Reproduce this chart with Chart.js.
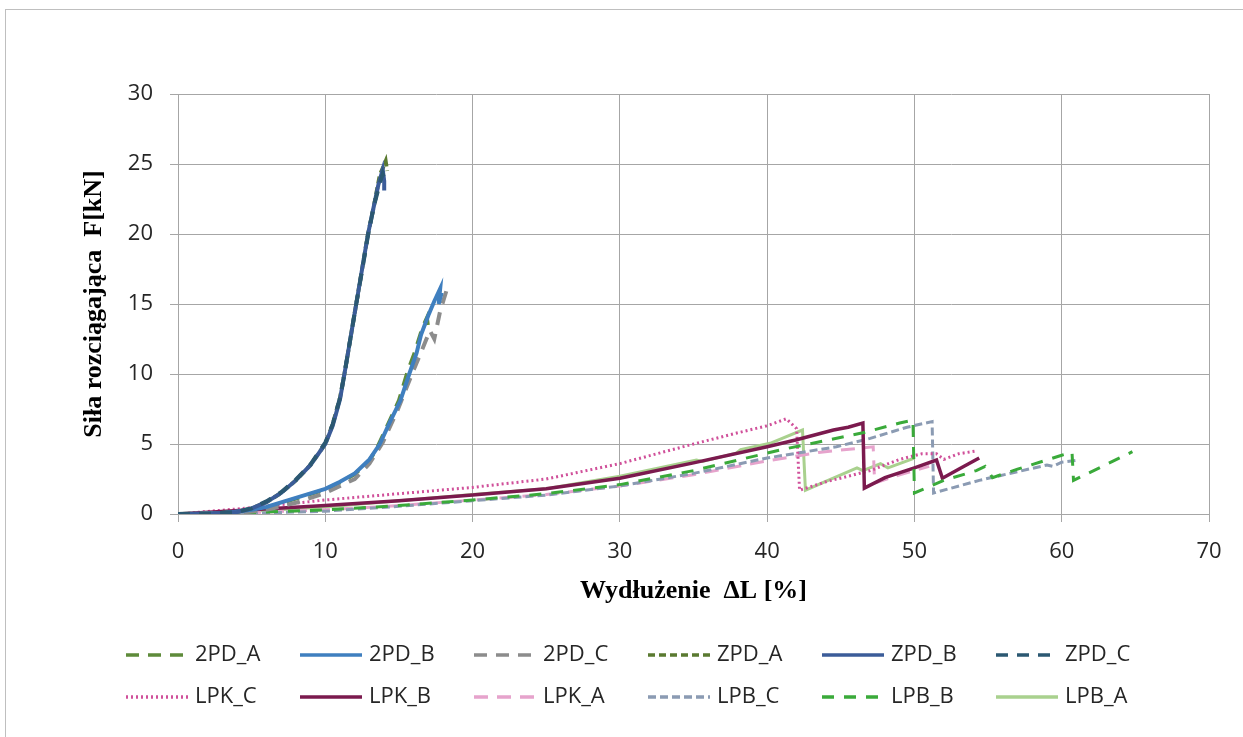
<!DOCTYPE html>
<html>
<head>
<meta charset="utf-8">
<script src="https://cdn.jsdelivr.net/npm/chart.js@4.4.1/dist/chart.umd.min.js"></script>
<style>
  html, body { margin: 0; padding: 0; background: #fff; }
</style>
</head>
<body>
<canvas id="chart" width="1243" height="737"></canvas>
<script>
// [wydłużenie %, siła kN]
const pd2_A = [[0,0],[3,0.05],[5,0.25],[6,0.45],[8,1.1],[10,1.75],[11,2.25],[12,2.85],[13,3.8],[13.6,4.9],[14.3,6.5],[15,8.1],[15.6,10.2],[16.1,11.6],[16.3,12.3],[16.6,13.3],[16.9,14.0],[17.0,13.2]];
const pd2_B = [[0,0],[3,0.05],[5,0.3],[6,0.5],[8,1.15],[10,1.8],[11,2.3],[12,2.9],[13,3.9],[13.7,5.0],[14.4,6.6],[15.1,8.1],[15.7,10],[16.2,11.5],[16.5,12.8],[17,14.2],[17.4,15.2],[17.8,16.1],[17.7,15.0],[17.9,15.8]];
const pd2_C = [[0,0],[4,0.05],[6,0.3],[8,0.8],[10,1.5],[12,2.5],[13,3.6],[13.9,5.1],[14.9,7.4],[16,10.3],[16.6,11.8],[17.1,13.1],[17.4,12.5],[17.8,14.5],[18.3,16.2]];
const zpd_A = [[0,0],[2,0.02],[4,0.15],[5,0.4],[6,0.85],[7,1.5],[8,2.4],[9,3.5],[10,5.0],[10.5,6.4],[11,8.3],[11.3,10],[11.7,12.5],[12.1,15],[12.5,17.5],[12.9,20],[13.3,22],[13.7,24.2],[14.1,25.2],[14.2,24.5]];
const zpd_B = [[0,0],[2,0.02],[4,0.15],[5,0.4],[6,0.85],[7,1.5],[8,2.4],[9,3.5],[10,5.0],[10.5,6.3],[11,8.2],[11.3,10],[11.7,12.5],[12.1,15],[12.5,17.5],[12.9,20],[13.3,22],[13.6,23.5],[13.9,24.6],[14.0,23.8],[14.0,23.1]];
const zpd_C = [[0,0],[2,0.02],[4,0.15],[5,0.4],[6,0.9],[7,1.55],[8,2.45],[9,3.55],[10,5.1],[10.5,6.4],[11,8.3],[11.3,10],[11.7,12.5],[12.1,15],[12.5,17.4],[12.9,19.9],[13.3,22],[13.7,23.6],[13.9,24.3],[14.1,23.6]];
const lpk_C = [[0,0],[5,0.45],[10,1.0],[15,1.45],[20,1.9],[25,2.5],[30,3.6],[35,5.0],[38,5.8],[40,6.3],[41.3,6.8],[42,6.1],[42.2,1.7],[44,2.3],[47,3.1],[49,3.9],[50.5,4.3],[51.5,4.3],[52,3.9],[53,4.3],[54.2,4.5]];
const lpk_B = [[0,0],[5,0.3],[10,0.6],[15,0.95],[20,1.35],[25,1.8],[30,2.55],[35,3.65],[40,4.8],[42,5.3],[44.5,6.0],[45.5,6.2],[46.5,6.5],[46.6,1.85],[48,2.6],[50,3.3],[51.5,3.85],[51.9,2.55],[53,3.2],[54.4,4.0]];
const lpk_A = [[0,0],[5,0.1],[10,0.3],[15,0.6],[20,1.0],[25,1.4],[30,2.0],[35,2.8],[40,3.8],[43.5,4.4],[47.2,4.8],[47.3,2.2],[49,2.8],[51,3.4]];
const lpb_C = [[0,0],[5,0.05],[10,0.2],[15,0.55],[20,0.95],[25,1.35],[30,2.0],[35,2.9],[40,4.0],[44.7,4.8],[47,5.4],[49.5,6.2],[51.2,6.6],[51.3,1.5],[54.4,2.4],[59,3.5],[59.4,3.4],[60,3.7],[61.2,3.85]];
const lpb_B = [[0,0],[5,0.1],[10,0.3],[15,0.6],[20,1.0],[25,1.45],[30,2.1],[35,3.1],[41,4.6],[46.5,5.8],[49,6.5],[49.9,6.7],[50,1.5],[52,2.4],[54.2,3.1],[54.8,3.4],[55.3,2.6],[57,3.2],[60,4.2],[60.7,4.4],[60.8,2.4],[64.8,4.45]];
const lpb_A = [[0,0],[5,0.2],[10,0.5],[15,0.95],[20,1.4],[25,1.8],[30,2.7],[35.2,3.85],[35.6,3.75],[37.9,4.35],[38.2,4.6],[40.2,5.05],[42.4,6.0],[42.6,1.7],[46.1,3.3],[46.5,3.1],[47.7,3.6],[48.2,3.3],[49.5,3.8],[50,4.0]];

const seriesNames = ['2PD_A','2PD_B','2PD_C','ZPD_A','ZPD_B','ZPD_C','LPK_C','LPK_B','LPK_A','LPB_C','LPB_B','LPB_A'];
const seriesData = [pd2_A, pd2_B, pd2_C, zpd_A, zpd_B, zpd_C, lpk_C, lpk_B, lpk_A, lpb_C, lpb_B, lpb_A];
const xTicks = [0, 10, 20, 30, 40, 50, 60, 70];
const yTicks = [0, 5, 10, 15, 20, 25, 30];

const kolory = ['#5e8b3a','#3f7fbf','#8c8c8c','#5a7a30','#3b5c99','#2b5872','#d0509a','#7b1a4e','#e6a3cc','#8b9bb3','#3aaa3a','#a9d18e'];
const kreski = [[13,9],[],[13,9],[7,4],[],[12,9],[2,3],[],[14,9],[8,4],[12,10],[]];
const grubosci = [4,4,4,4,4,4,3,3.5,3,3,3,3];
// kolejność rysowania (mniejsza = wyżej)
const kolejnosc = [5,2,3,4,1,0,8,7,10,9,6,11];

const xTitle = 'Wydłużenie  ΔL [%]';
const yTitle = 'Siła rozciągająca  F[kN]';

const ramka = {
  id: 'ramka',
  beforeDraw(chart) {
    const c = chart.ctx;
    c.save();
    c.fillStyle = '#fff';
    c.fillRect(0, 0, chart.width, chart.height);
    c.strokeStyle = '#bfbfbf';
    c.lineWidth = 1;
    c.strokeRect(5.5, 9.5, 1250, 740);
    c.restore();
  }
};

// legenda w siatce 6 x 2
const legenda = {
  id: 'legenda',
  afterDraw(chart) {
    const c = chart.ctx;
    c.save();
    c.font = '22px "Open Sans"';
    c.textBaseline = 'middle';
    c.fillStyle = '#262626';
    chart.data.datasets.forEach((ds, i) => {
      const col = i % 6, row = Math.floor(i / 6);
      const x = 126 + col * 174;
      const y = 655 + row * 42;
      c.strokeStyle = ds.borderColor;
      c.lineWidth = 3.5;
      c.setLineDash(ds.borderDash || []);
      c.beginPath();
      c.moveTo(x, y);
      c.lineTo(x + 62, y);
      c.stroke();
      c.setLineDash([]);
      c.fillText(ds.label, x + 69, y);
    });
    c.restore();
  }
};

let kanvas = document.getElementById('chart');

let grafik = new Chart(kanvas, {
  type: 'line',
  data: {
    datasets: seriesData.map((d, i) => ({
      label: seriesNames[i],
      data: d.map(p => ({ x: p[0], y: p[1] })),
      borderColor: kolory[i],
      backgroundColor: kolory[i],
      borderDash: kreski[i],
      borderWidth: grubosci[i],
      order: kolejnosc[i],
      pointRadius: 0,
      tension: 0,
      fill: false
    }))
  },
  options: {
    responsive: false,
    animation: false,
    layout: { padding: { left: 0, top: 94, right: 34, bottom: 128 } },
    plugins: {
      legend: { display: false },
      tooltip: { enabled: false }
    },
    scales: {
      x: {
        type: 'linear',
        min: 0, max: 70,
        afterBuildTicks: s => { s.ticks = xTicks.map(v => ({ value: v })); },
        ticks: { color: '#262626', font: { family: 'Open Sans', size: 22 }, padding: 17 },
        grid: { color: '#a6a6a6', lineWidth: 1, tickLength: 8 },
        border: { color: '#a6a6a6' },
        title: { display: true, text: xTitle, color: '#000', font: { family: 'Liberation Serif', size: 26, weight: 'bold' }, padding: { top: 0, bottom: 2 } },
        afterFit: s => { s.height = 95; }
      },
      y: {
        type: 'linear',
        min: 0, max: 30,
        afterBuildTicks: s => { s.ticks = yTicks.map(v => ({ value: v })); },
        ticks: { color: '#262626', font: { family: 'Open Sans', size: 22 }, padding: 17 },
        grid: { color: '#a6a6a6', lineWidth: 1, tickLength: 8 },
        border: { color: '#a6a6a6' },
        title: { display: true, text: yTitle, color: '#000', font: { family: 'Liberation Serif', size: 26, weight: 'bold' }, padding: { top: 79, bottom: 0 } },
        afterFit: s => { s.width = 178; }
      }
    }
  },
  plugins: [ramka, legenda]
});
</script>
</body>
</html>
